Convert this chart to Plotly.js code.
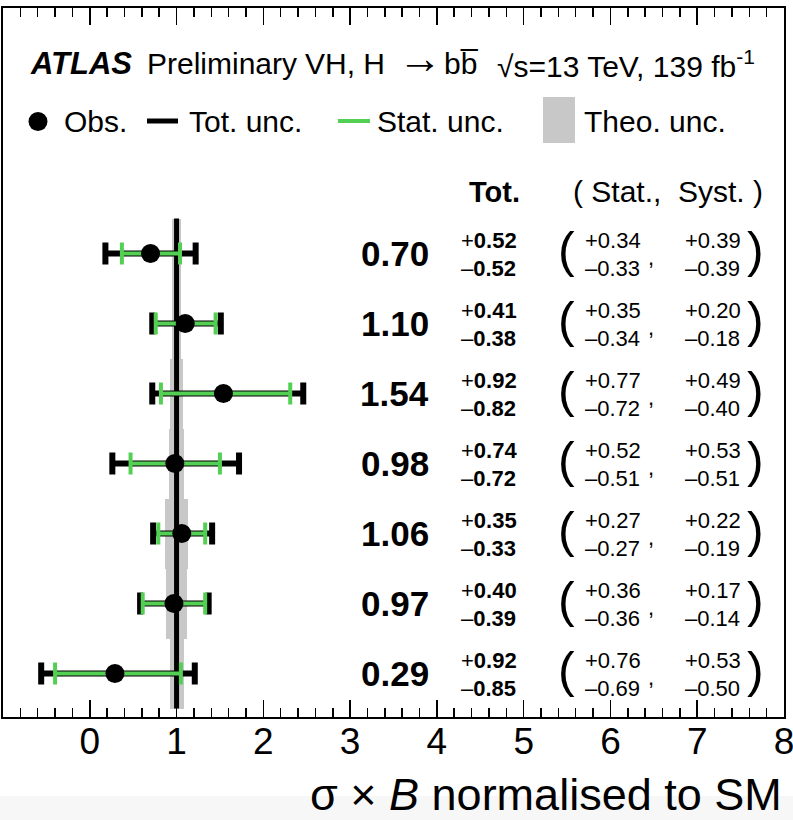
<!DOCTYPE html>
<html>
<head>
<meta charset="utf-8">
<script src="https://cdn.plot.ly/plotly-3.0.1.min.js"></script>
<style>html,body{margin:0;padding:0;background:#fff;}#chart{width:793px;height:820px;}</style>
</head>
<body>
<div id="chart"></div>
<script>
// ---- data ----
const rowPos   = [6, 5, 4, 3, 2, 1, 0];
const muValue  = [0.70, 1.10, 1.54, 0.98, 1.06, 0.97, 0.29];
const totUp    = [0.52, 0.41, 0.92, 0.74, 0.35, 0.40, 0.92];
const totDn    = [0.52, 0.38, 0.82, 0.72, 0.33, 0.39, 0.85];
const statUp   = [0.34, 0.35, 0.77, 0.52, 0.27, 0.36, 0.76];
const statDn   = [0.33, 0.34, 0.72, 0.51, 0.27, 0.36, 0.69];
const systUp   = [0.39, 0.20, 0.49, 0.53, 0.22, 0.17, 0.53];
const systDn   = [0.39, 0.18, 0.40, 0.51, 0.19, 0.14, 0.50];
const theoUnc  = [0.05, 0.05, 0.07, 0.09, 0.13, 0.12, 0.08];
const smRef    = 1;
const xTicks   = [0, 1, 2, 3, 4, 5, 6, 7, 8];

// ---- layout helpers ----
const W = 793, H = 820;
const L = 3, R = 784, T = 8, B = 717;
const FONT = 'Liberation Sans, Arial, Helvetica, sans-serif';
const GREEN = '#53d053';
const GRAY = '#c8c8c8';
const px = p => (p - L) / (R - L);
const py = p => (B - p) / (B - T);
const f2 = v => v.toFixed(2);

const traces = [
  { type: 'bar', orientation: 'h', y: rowPos, x: theoUnc.map(t => 2 * t),
    base: theoUnc.map(t => smRef - t), width: 1, marker: { color: GRAY, line: { width: 0 } },
    hoverinfo: 'skip', showlegend: false },
  { type: 'scatter', mode: 'lines', x: [smRef, smRef],
    y: [Math.min(...rowPos) - 0.5, Math.max(...rowPos) + 0.5],
    line: { color: '#000', width: 5 }, hoverinfo: 'skip', showlegend: false },
  { type: 'scatter', mode: 'markers', x: muValue, y: rowPos,
    marker: { size: 1, color: 'rgba(0,0,0,0)' },
    error_x: { type: 'data', symmetric: false, array: totUp, arrayminus: totDn,
               color: '#000', thickness: 6, width: 11 },
    hoverinfo: 'skip', showlegend: false },
  { type: 'scatter', mode: 'markers', x: muValue, y: rowPos,
    marker: { size: 1, color: 'rgba(0,0,0,0)' },
    error_x: { type: 'data', symmetric: false, array: statUp, arrayminus: statDn,
               color: GREEN, thickness: 4, width: 11 },
    hoverinfo: 'skip', showlegend: false },
  { type: 'scatter', mode: 'markers', x: muValue, y: rowPos,
    marker: { size: 19, color: '#000' }, showlegend: false }
];

const ann = [];
function txt(o) { ann.push(Object.assign({ showarrow: false, font: { family: FONT, size: 22, color: '#000' } }, o)); }

// header
txt({ xref: 'paper', yref: 'paper', x: px(28), y: py(64), xanchor: 'left', yanchor: 'middle',
      text: '<b><i>ATLAS</i></b>', font: { family: FONT, size: 31, color: '#000' } });
txt({ xref: 'paper', yref: 'paper', x: px(145), y: py(64), xanchor: 'left', yanchor: 'middle',
      text: 'Preliminary', font: { family: FONT, size: 30, color: '#000' } });
txt({ xref: 'paper', yref: 'paper', x: px(303), y: py(64), xanchor: 'left', yanchor: 'middle',
      text: 'VH, H', font: { family: FONT, size: 30, color: '#000' } });
txt({ xref: 'paper', yref: 'paper', x: px(420), y: py(57), xanchor: 'center', yanchor: 'middle',
      text: '\u2192', font: { family: FONT, size: 44, color: '#000' } });
txt({ xref: 'paper', yref: 'paper', x: px(442), y: py(64), xanchor: 'left', yanchor: 'middle',
      text: 'bb\u0305', font: { family: FONT, size: 30, color: '#000' } });
txt({ xref: 'paper', yref: 'paper', x: px(495), y: py(64), xanchor: 'left', yanchor: 'middle',
      text: '\u221As=13 TeV, 139 fb<sup>-1</sup>', font: { family: FONT, size: 30, color: '#000' } });

// legend texts
[['Obs.', 62], ['Tot. unc.', 187], ['Stat. unc.', 375], ['Theo. unc.', 582]].forEach(([t, x]) =>
  txt({ xref: 'paper', yref: 'paper', x: px(x), y: py(122), xanchor: 'left', yanchor: 'middle',
        text: t, font: { family: FONT, size: 30, color: '#000' } }));

// column headers
txt({ xref: 'paper', yref: 'paper', x: px(494), y: py(192), xanchor: 'center', yanchor: 'middle',
      text: '<b>Tot.</b>', font: { family: FONT, size: 29, color: '#000' } });
txt({ xref: 'paper', yref: 'paper', x: px(668), y: py(191), xanchor: 'center', yanchor: 'middle',
      text: '( Stat.,  Syst. )', font: { family: FONT, size: 30, color: '#000' } });

// rows
rowPos.forEach((r, i) => {
  txt({ xref: 'paper', yref: 'y', x: px(431), y: r, xanchor: 'right', yanchor: 'middle',
        text: '<b>' + f2(muValue[i]) + '</b>', font: { family: FONT, size: 35, color: '#000' } });
  txt({ xref: 'paper', yref: 'y', x: px(459), y: r, yshift: 13.5, xanchor: 'left', yanchor: 'middle',
        text: '+<b>' + f2(totUp[i]) + '</b>' });
  txt({ xref: 'paper', yref: 'y', x: px(459), y: r, yshift: -15, xanchor: 'left', yanchor: 'middle',
        text: '\u2013<b>' + f2(totDn[i]) + '</b>' });
  txt({ xref: 'paper', yref: 'y', x: px(566), y: r, yshift: 4, xanchor: 'center', yanchor: 'middle',
        text: '(', font: { family: FONT, size: 50, color: '#000' } });
  txt({ xref: 'paper', yref: 'y', x: px(755), y: r, yshift: 4, xanchor: 'center', yanchor: 'middle',
        text: ')', font: { family: FONT, size: 50, color: '#000' } });
  txt({ xref: 'paper', yref: 'y', x: px(583), y: r, yshift: 13.5, xanchor: 'left', yanchor: 'middle',
        text: '+' + f2(statUp[i]) });
  txt({ xref: 'paper', yref: 'y', x: px(583), y: r, yshift: -15, xanchor: 'left', yanchor: 'middle',
        text: '\u2013' + f2(statDn[i]) });
  txt({ xref: 'paper', yref: 'y', x: px(651), y: r, yshift: -4, xanchor: 'center', yanchor: 'middle',
        text: ',' });
  txt({ xref: 'paper', yref: 'y', x: px(683), y: r, yshift: 13.5, xanchor: 'left', yanchor: 'middle',
        text: '+' + f2(systUp[i]) });
  txt({ xref: 'paper', yref: 'y', x: px(683), y: r, yshift: -15, xanchor: 'left', yanchor: 'middle',
        text: '\u2013' + f2(systDn[i]) });
});

// x-axis title (right aligned as in ROOT)
txt({ xref: 'paper', yref: 'paper', x: 1, y: py(794), xanchor: 'right', yanchor: 'middle',
      text: '\u03C3 \u00D7 <i>B</i> normalised to SM', font: { family: FONT, size: 45, color: '#000' } });

const shapes = [
  { type: 'rect', xref: 'paper', yref: 'paper', x0: px(0), x1: px(W), y0: py(796), y1: py(H),
    fillcolor: '#f7f7f7', line: { width: 0 }, layer: 'below' },
  { type: 'circle', xref: 'paper', yref: 'paper', x0: px(28.5), x1: px(47.5), y0: py(112), y1: py(131),
    fillcolor: '#000', line: { width: 0 } },
  { type: 'line', xref: 'paper', yref: 'paper', x0: px(147), x1: px(178), y0: py(121), y1: py(121),
    line: { color: '#000', width: 5 } },
  { type: 'line', xref: 'paper', yref: 'paper', x0: px(338), x1: px(370), y0: py(121), y1: py(121),
    line: { color: GREEN, width: 4 } },
  { type: 'rect', xref: 'paper', yref: 'paper', x0: px(543), x1: px(575), y0: py(97), y1: py(143),
    fillcolor: GRAY, line: { width: 0 } }
];

const layout = {
  width: W, height: H,
  margin: { l: L, r: W - R, t: T, b: H - B, pad: 0 },
  paper_bgcolor: '#fff', plot_bgcolor: '#fff',
  showlegend: false,
  bargap: 0,
  xaxis: {
    range: [-1, 8], tickmode: 'array', tickvals: xTicks, ticktext: xTicks.map(String),
    ticks: 'inside', ticklen: 17, tickwidth: 1.5, tickcolor: '#000',
    minor: { dtick: 0.2, tick0: 0, ticks: 'inside', ticklen: 9, tickwidth: 1.5, tickcolor: '#000' },
    mirror: 'ticks', showline: true, linecolor: '#000', linewidth: 2,
    showgrid: false, zeroline: false, ticklabeloverflow: 'allow',
    tickfont: { family: FONT, size: 37, color: '#000' }, ticklabelstandoff: -9
  },
  yaxis: {
    range: [-0.621, 9.507], showticklabels: false, ticks: '',
    showline: true, mirror: true, linecolor: '#000', linewidth: 2,
    showgrid: false, zeroline: false
  },
  annotations: ann,
  shapes: shapes
};

Plotly.newPlot('chart', traces, layout, { staticPlot: true, displayModeBar: false });
</script>
</body>
</html>
